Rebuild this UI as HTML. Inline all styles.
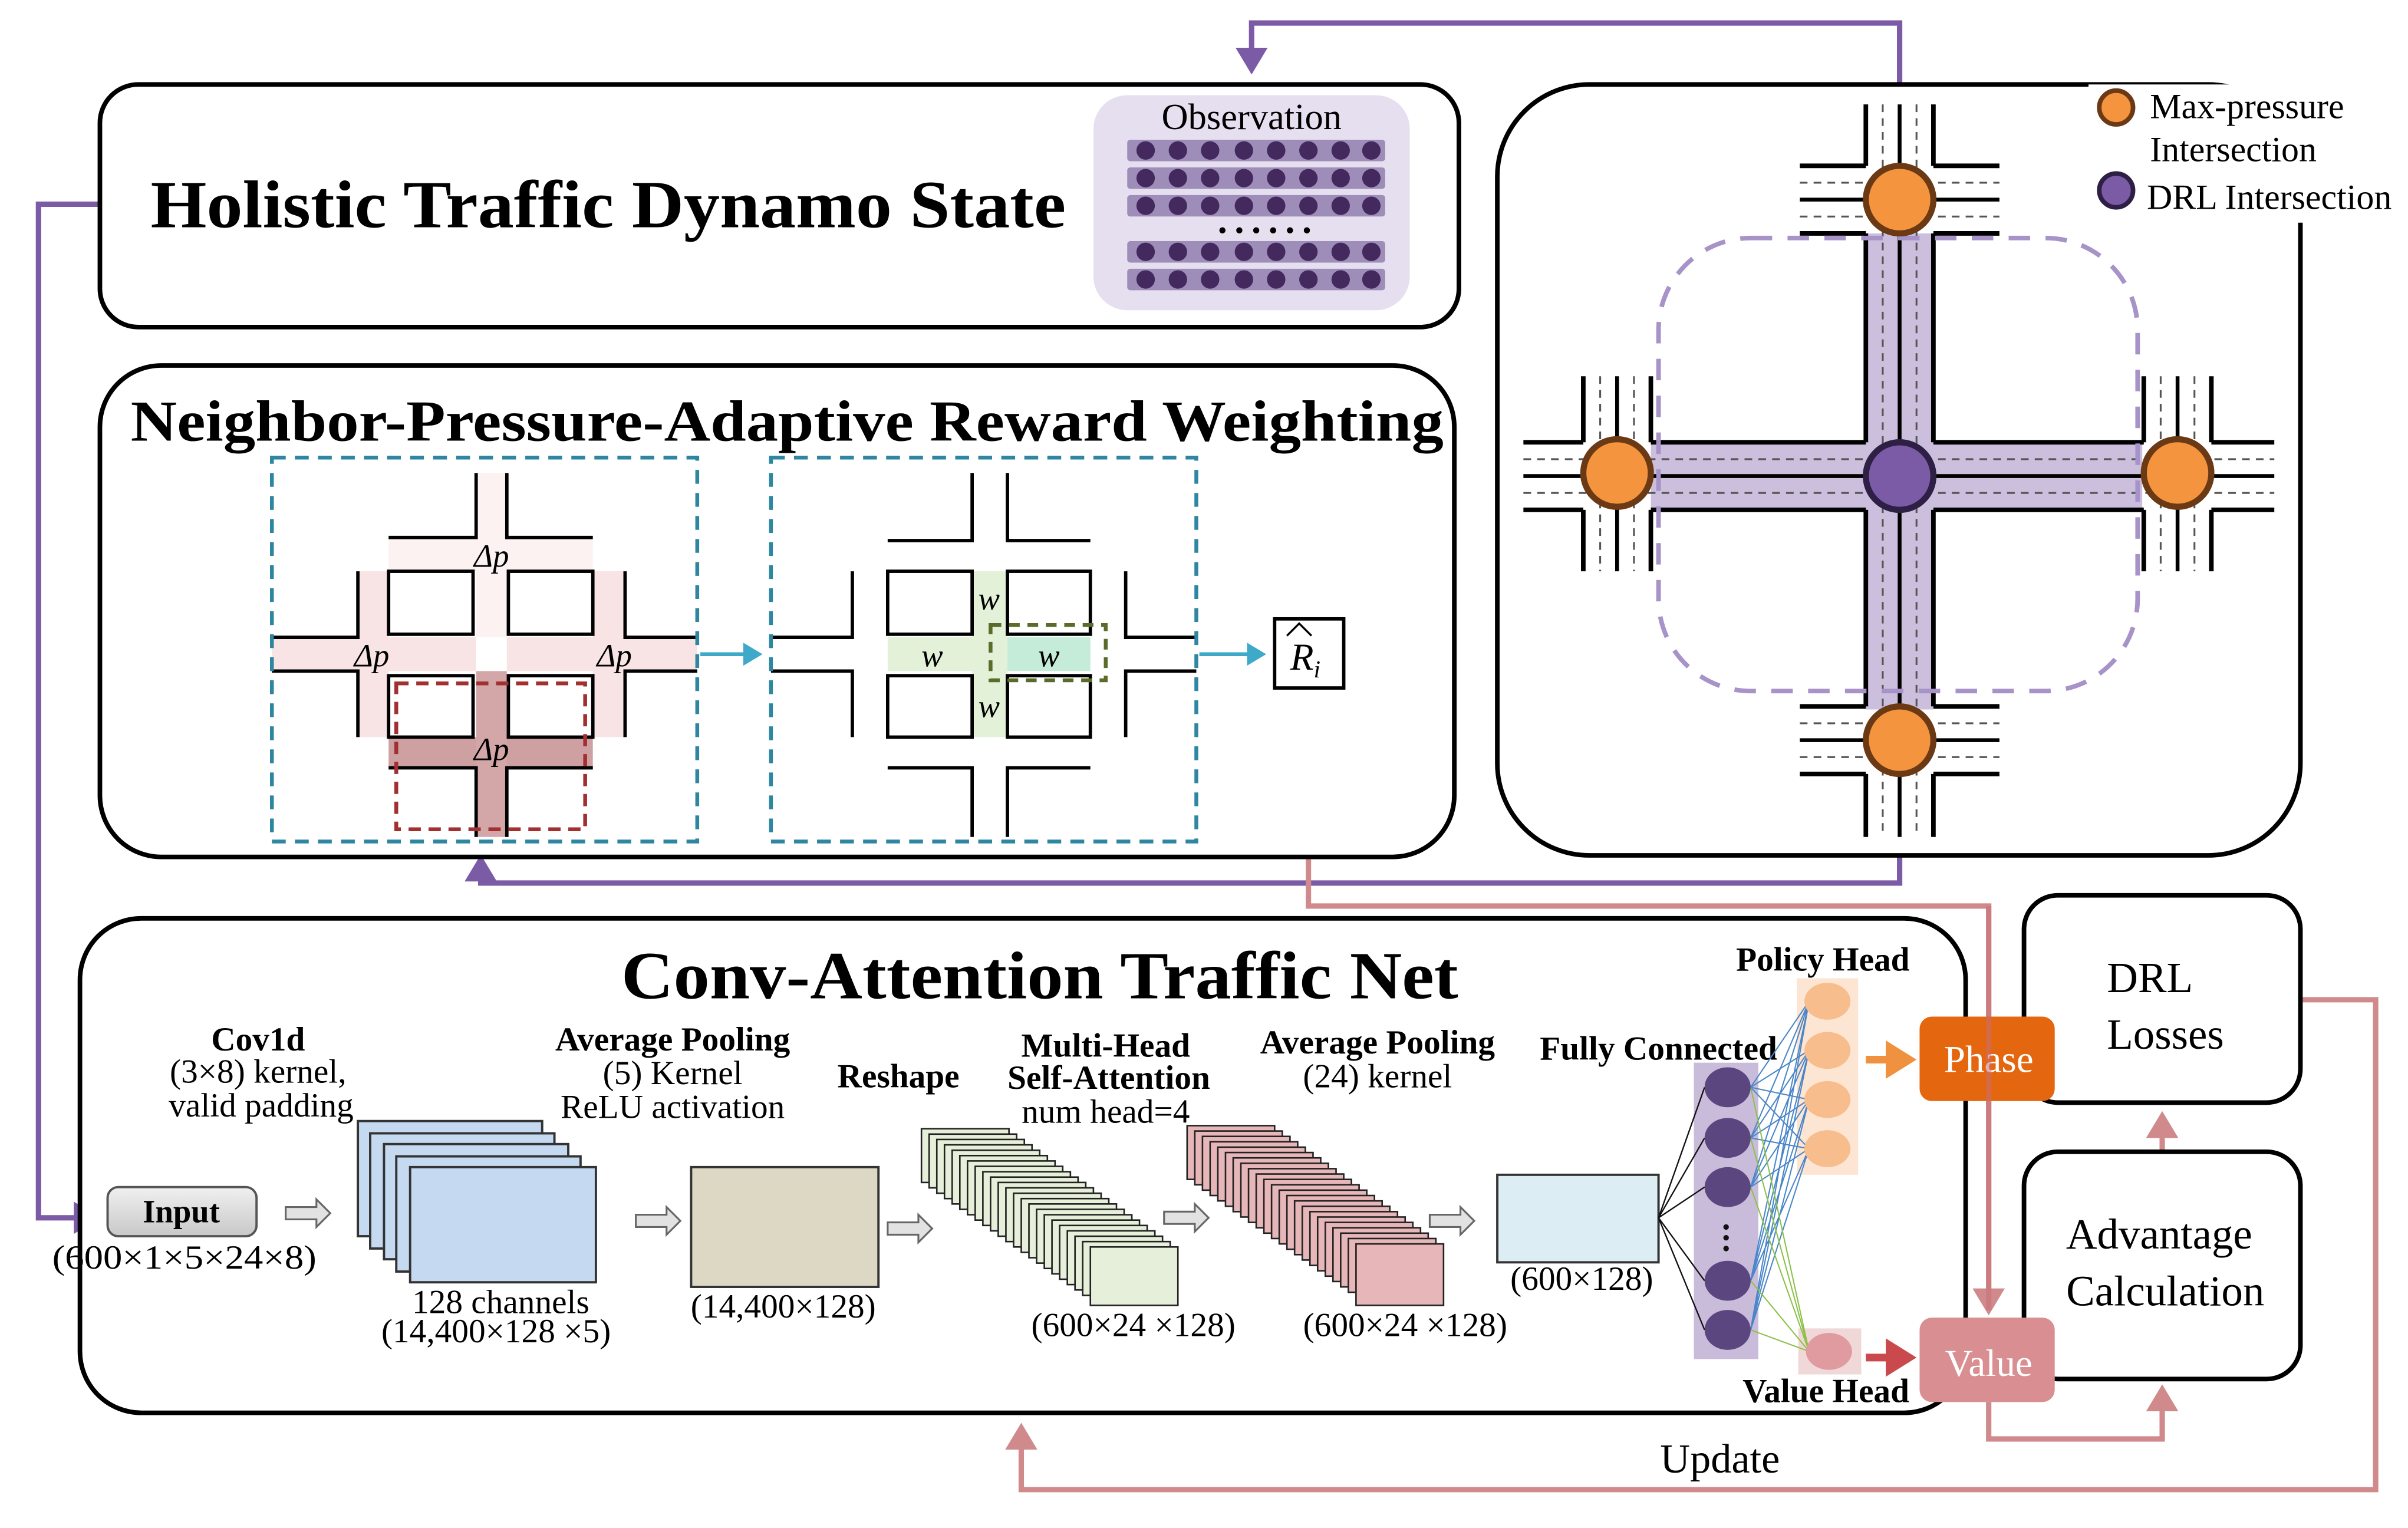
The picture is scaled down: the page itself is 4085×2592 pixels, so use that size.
<!DOCTYPE html>
<html><head><meta charset="utf-8"><style>
html,body{margin:0;padding:0;background:#fff;}
svg{display:block;}
text{font-family:"Liberation Serif",serif;}
</style></head><body>
<svg width="4085" height="2592" viewBox="0 0 1568 995" xmlns="http://www.w3.org/2000/svg">
<defs>
<marker id="ap" markerWidth="6" markerHeight="6" refX="4" refY="3" orient="auto" markerUnits="strokeWidth"><path d="M0,0 L5,3 L0,6 z" fill="#7b5aa6"/></marker>
<marker id="ar" markerWidth="6" markerHeight="6" refX="4" refY="3" orient="auto" markerUnits="strokeWidth"><path d="M0,0 L5,3 L0,6 z" fill="#d08a8c"/></marker>
<marker id="at" markerWidth="6" markerHeight="6" refX="4" refY="3" orient="auto" markerUnits="strokeWidth"><path d="M0,0 L5,3 L0,6 z" fill="#3fa9c9"/></marker>
<marker id="ao" markerWidth="5" markerHeight="5" refX="3" refY="2.5" orient="auto" markerUnits="strokeWidth"><path d="M0,0 L4,2.5 L0,5 z" fill="#f0913f"/></marker>
<marker id="ad" markerWidth="5" markerHeight="5" refX="3" refY="2.5" orient="auto" markerUnits="strokeWidth"><path d="M0,0 L4,2.5 L0,5 z" fill="#c9494c"/></marker>
<linearGradient id="gin" x1="0" y1="0" x2="0" y2="1"><stop offset="0" stop-color="#f0f0f0"/><stop offset="1" stop-color="#c8c8c8"/></linearGradient>
<g id="harr"><path d="M0,-4 L20,-4 L20,-9 L29,0 L20,9 L20,4 L0,4 z" fill="#e2e2e2" stroke="#666" stroke-width="1.2"/></g>
</defs>

<polyline points="1237,55 1237,15 815,15 815,45" fill="none" stroke="#7b5aa6" stroke-width="3.5" marker-end="url(#ap)"/>
<polyline points="65,133 25,133 25,793 62,793" fill="none" stroke="#7b5aa6" stroke-width="3.5" marker-end="url(#ap)"/>
<polyline points="1237,557 1237,575 313,575 313,560" fill="none" stroke="#7b5aa6" stroke-width="3.5" marker-end="url(#ap)"/>
<polyline points="852,450 852,590 1295,590 1295,853" fill="none" stroke="#d08a8c" stroke-width="3.5" marker-end="url(#ar)"/>
<polyline points="1498,651 1547,651 1547,970 665,970 665,930" fill="none" stroke="#d08a8c" stroke-width="3.5" marker-end="url(#ar)"/>
<polyline points="1295,913 1295,937 1408,937 1408,905" fill="none" stroke="#d08a8c" stroke-width="3.5" marker-end="url(#ar)"/>
<line x1="1408" y1="750" x2="1408" y2="727" stroke="#d08a8c" stroke-width="3.5" marker-end="url(#ar)"/>
<text x="1120" y="959" font-size="27" text-anchor="middle">Update</text>

<rect x="65" y="55" width="885" height="158" rx="25" fill="#fff" stroke="#000" stroke-width="3"/>
<text x="98" y="148" font-size="44" font-weight="bold" textLength="596" lengthAdjust="spacingAndGlyphs">Holistic Traffic Dynamo State</text>
<rect x="712" y="62" width="206" height="140" rx="22" fill="#e6dff0"/>
<text x="815" y="84" font-size="24" text-anchor="middle">Observation</text>
<g fill="#9d8db8">
<rect x="734" y="91" width="168" height="14" rx="2"/><rect x="734" y="109" width="168" height="14" rx="2"/><rect x="734" y="127" width="168" height="14" rx="2"/><rect x="734" y="157" width="168" height="14" rx="2"/><rect x="734" y="175" width="168" height="14" rx="2"/>
</g>
<g fill="#43295e">
<g id="dotrow"><circle cx="746" cy="98" r="6"/><circle cx="767" cy="98" r="6"/><circle cx="788" cy="98" r="6"/><circle cx="810" cy="98" r="6"/><circle cx="831" cy="98" r="6"/><circle cx="852" cy="98" r="6"/><circle cx="873" cy="98" r="6"/><circle cx="893" cy="98" r="6"/></g>
<use href="#dotrow" y="18"/><use href="#dotrow" y="36"/><use href="#dotrow" y="66"/><use href="#dotrow" y="84"/>
</g>
<g fill="#000"><circle cx="796" cy="150" r="2"/><circle cx="807" cy="150" r="2"/><circle cx="818" cy="150" r="2"/><circle cx="829" cy="150" r="2"/><circle cx="840" cy="150" r="2"/><circle cx="851" cy="150" r="2"/></g>

<rect x="65" y="238" width="882" height="320" rx="40" fill="#fff" stroke="#000" stroke-width="3"/>
<text x="85" y="287" font-size="38" font-weight="bold" textLength="855" lengthAdjust="spacingAndGlyphs">Neighbor-Pressure-Adaptive Reward Weighting</text>

<rect x="310" y="308" width="20" height="42" fill="#fcf2f2"/>
<rect x="253" y="350" width="133" height="22" fill="#fcf2f2"/>
<rect x="310" y="372" width="20" height="43" fill="#fcf2f2"/>
<rect x="233" y="372" width="20" height="108" fill="#f8e4e4"/>
<rect x="386" y="372" width="21" height="108" fill="#f8e4e4"/>
<rect x="177" y="415" width="277" height="22" fill="#f8e4e4"/>
<rect x="310" y="415" width="20" height="22" fill="#fff"/>
<rect x="253" y="480" width="133" height="20" fill="#cfa0a2"/>
<rect x="310" y="437" width="20" height="108" fill="#d3a6a7"/>
<g fill="none" stroke="#000" stroke-width="2.2">
<rect x="253" y="372" width="55" height="41"/><rect x="331" y="372" width="55" height="41"/>
<rect x="253" y="440" width="55" height="40"/><rect x="331" y="440" width="55" height="40"/>
<polyline points="310,308 310,350 253,350"/><polyline points="330,308 330,350 386,350"/>
<polyline points="233,372 233,415 177,415"/><polyline points="233,480 233,437 177,437"/>
<polyline points="407,372 407,415 454,415"/><polyline points="407,480 407,437 454,437"/>
<polyline points="253,500 310,500 310,545"/><polyline points="386,500 330,500 330,545"/>
</g>
<g font-size="21" font-style="italic" text-anchor="middle">
<text x="320" y="369">Δp</text><text x="242" y="434">Δp</text><text x="400" y="434">Δp</text><text x="320" y="495">Δp</text>
</g>
<rect x="258" y="445" width="123" height="95" fill="none" stroke="#a33030" stroke-width="2.5" stroke-dasharray="8,5"/>
<rect x="177" y="298" width="277" height="250" fill="none" stroke="#2e86a0" stroke-width="2.5" stroke-dasharray="9,6"/>
<line x1="456" y1="426" x2="494" y2="426" stroke="#3fa9c9" stroke-width="2.5" marker-end="url(#at)"/>

<rect x="633" y="372" width="23" height="108" fill="#e3f1d8"/>
<rect x="578" y="415" width="55" height="22" fill="#e3f1d8"/>
<rect x="656" y="415" width="54" height="22" fill="#c5ecd9"/>
<g fill="none" stroke="#000" stroke-width="2.2">
<rect x="578" y="372" width="55" height="41"/><rect x="656" y="372" width="54" height="41"/>
<rect x="578" y="440" width="55" height="40"/><rect x="656" y="440" width="54" height="40"/>
<polyline points="633,308 633,352 578,352"/><polyline points="656,308 656,352 710,352"/>
<polyline points="555,372 555,415 502,415"/><polyline points="555,480 555,437 502,437"/>
<polyline points="733,372 733,415 779,415"/><polyline points="733,480 733,437 779,437"/>
<polyline points="578,500 633,500 633,545"/><polyline points="710,500 656,500 656,545"/>
</g>
<g font-size="21" font-style="italic" text-anchor="middle">
<text x="644" y="397">w</text><text x="607" y="434">w</text><text x="683" y="434">w</text><text x="644" y="467">w</text>
</g>
<rect x="645" y="407" width="75" height="36" fill="none" stroke="#5a6b2a" stroke-width="2.5" stroke-dasharray="7,5"/>
<rect x="502" y="298" width="277" height="250" fill="none" stroke="#2e86a0" stroke-width="2.5" stroke-dasharray="9,6"/>
<line x1="781" y1="426" x2="822" y2="426" stroke="#3fa9c9" stroke-width="2.5" marker-end="url(#at)"/>
<rect x="830" y="403" width="45" height="45" fill="#fff" stroke="#000" stroke-width="2.2"/>
<text x="850" y="436" font-size="25" font-style="italic" text-anchor="middle">R<tspan font-size="16" dy="5">i</tspan></text>
<path d="M838,414 L846,406 L854,414" fill="none" stroke="#000" stroke-width="1.3"/>

<rect x="975" y="55" width="523" height="502" rx="60" fill="none" stroke="#000" stroke-width="3"/>
<rect x="1215" y="152" width="44" height="310" fill="#cbbfdd"/>
<rect x="1075" y="288" width="320" height="44" fill="#cbbfdd"/>
<g stroke="#000" stroke-width="3" fill="none">
<line x1="1215" y1="68" x2="1215" y2="108"/><line x1="1259" y1="68" x2="1259" y2="108"/>
<line x1="1215" y1="152" x2="1215" y2="288"/><line x1="1259" y1="152" x2="1259" y2="288"/>
<line x1="1215" y1="332" x2="1215" y2="460"/><line x1="1259" y1="332" x2="1259" y2="460"/>
<line x1="1215" y1="504" x2="1215" y2="545"/><line x1="1259" y1="504" x2="1259" y2="545"/>
<line x1="1237" y1="68" x2="1237" y2="545" stroke-width="2.5"/>
<line x1="992" y1="288" x2="1031" y2="288"/><line x1="992" y1="332" x2="1031" y2="332"/>
<line x1="1075" y1="288" x2="1215" y2="288"/><line x1="1075" y1="332" x2="1215" y2="332"/>
<line x1="1259" y1="288" x2="1396" y2="288"/><line x1="1259" y1="332" x2="1396" y2="332"/>
<line x1="1440" y1="288" x2="1481" y2="288"/><line x1="1440" y1="332" x2="1481" y2="332"/>
<line x1="992" y1="310" x2="1481" y2="310" stroke-width="2.5"/>
<line x1="1172" y1="108" x2="1215" y2="108"/><line x1="1259" y1="108" x2="1302" y2="108"/>
<line x1="1172" y1="152" x2="1215" y2="152"/><line x1="1259" y1="152" x2="1302" y2="152"/>
<line x1="1172" y1="130" x2="1302" y2="130" stroke-width="2.5"/>
<line x1="1172" y1="460" x2="1215" y2="460"/><line x1="1259" y1="460" x2="1302" y2="460"/>
<line x1="1172" y1="504" x2="1215" y2="504"/><line x1="1259" y1="504" x2="1302" y2="504"/>
<line x1="1172" y1="482" x2="1302" y2="482" stroke-width="2.5"/>
<line x1="1031" y1="245" x2="1031" y2="288"/><line x1="1075" y1="245" x2="1075" y2="288"/>
<line x1="1031" y1="332" x2="1031" y2="372"/><line x1="1075" y1="332" x2="1075" y2="372"/>
<line x1="1053" y1="245" x2="1053" y2="372" stroke-width="2.5"/>
<line x1="1396" y1="245" x2="1396" y2="288"/><line x1="1440" y1="245" x2="1440" y2="288"/>
<line x1="1396" y1="332" x2="1396" y2="372"/><line x1="1440" y1="332" x2="1440" y2="372"/>
<line x1="1418" y1="245" x2="1418" y2="372" stroke-width="2.5"/>
</g>
<g stroke="#555" stroke-width="1.2" stroke-dasharray="5,4" fill="none">
<line x1="1226" y1="68" x2="1226" y2="545"/><line x1="1248" y1="68" x2="1248" y2="545"/>
<line x1="992" y1="299" x2="1481" y2="299"/><line x1="992" y1="321" x2="1481" y2="321"/>
<line x1="1172" y1="119" x2="1302" y2="119"/><line x1="1172" y1="141" x2="1302" y2="141"/>
<line x1="1172" y1="471" x2="1302" y2="471"/><line x1="1172" y1="493" x2="1302" y2="493"/>
<line x1="1042" y1="245" x2="1042" y2="372"/><line x1="1064" y1="245" x2="1064" y2="372"/>
<line x1="1407" y1="245" x2="1407" y2="372"/><line x1="1429" y1="245" x2="1429" y2="372"/>
</g>
<rect x="1080" y="155" width="312" height="295" rx="60" fill="none" stroke="#a793c8" stroke-width="3" stroke-dasharray="14,10"/>
<g stroke="#6b3a15" stroke-width="4" fill="#f4943f">
<circle cx="1237" cy="130" r="22"/><circle cx="1053" cy="308" r="22"/><circle cx="1418" cy="308" r="22"/><circle cx="1237" cy="482" r="22"/>
</g>
<circle cx="1237" cy="310" r="22" fill="#7b5aa6" stroke="#2e1f45" stroke-width="4"/>
<rect x="1360" y="55" width="205" height="90" fill="#fff"/>
<circle cx="1378" cy="70" r="11" fill="#f4943f" stroke="#6b3a15" stroke-width="3"/>
<circle cx="1378" cy="124" r="11" fill="#7b5aa6" stroke="#2e1f45" stroke-width="3"/>
<g font-size="23"><text x="1400" y="77">Max-pressure</text><text x="1400" y="105">Intersection</text><text x="1398" y="136">DRL Intersection</text></g>

<rect x="52" y="598" width="1228" height="322" rx="40" fill="#fff" stroke="#000" stroke-width="3"/>
<text x="677" y="650" font-size="44" font-weight="bold" text-anchor="middle" textLength="545" lengthAdjust="spacingAndGlyphs">Conv-Attention Traffic Net</text>

<rect x="70" y="773" width="97" height="32" rx="7" fill="url(#gin)" stroke="#555" stroke-width="1.5"/>
<text x="118" y="796" font-size="21" font-weight="bold" text-anchor="middle">Input</text>
<text x="120" y="826" font-size="22" text-anchor="middle" textLength="172" lengthAdjust="spacingAndGlyphs">(600×1×5×24×8)</text>
<g font-size="22" text-anchor="middle">
<text x="168" y="684" font-weight="bold">Cov1d</text><text x="168" y="705">(3×8) kernel,</text><text x="170" y="727">valid padding</text>
<text x="438" y="684" font-weight="bold">Average Pooling</text><text x="438" y="706">(5) Kernel</text><text x="438" y="728">ReLU activation</text>
<text x="585" y="708" font-weight="bold">Reshape</text>
<text x="720" y="688" font-weight="bold">Multi-Head</text><text x="722" y="709" font-weight="bold">Self-Attention</text><text x="720" y="731">num head=4</text>
<text x="897" y="686" font-weight="bold">Average Pooling</text><text x="897" y="708">(24) kernel</text>
<text x="1080" y="690" font-weight="bold">Fully Connected</text>
<text x="1187" y="632" font-weight="bold">Policy Head</text>
<text x="1189" y="913" font-weight="bold">Value Head</text>
<text x="326" y="855">128 channels</text><text x="323" y="874">(14,400×128 ×5)</text>
<text x="510" y="858">(14,400×128)</text>
<text x="738" y="870">(600×24 ×128)</text>
<text x="915" y="870">(600×24 ×128)</text>
<text x="1030" y="840">(600×128)</text>
</g>
<use href="#harr" x="186" y="790"/><use href="#harr" x="414" y="795"/><use href="#harr" x="578" y="800"/><use href="#harr" x="758" y="793"/><use href="#harr" x="931" y="795"/>
<g fill="#c5d9f1" stroke="#333" stroke-width="1.5">
<rect x="233" y="730" width="120" height="75"/><rect x="241" y="738" width="120" height="75"/><rect x="250" y="745" width="120" height="75"/><rect x="258" y="753" width="120" height="75"/><rect x="267" y="760" width="121" height="75"/>
</g>
<rect x="450" y="760" width="122" height="78" fill="#ddd8c4" stroke="#333" stroke-width="1.5"/>
<g fill="#e6efd9" stroke="#222" stroke-width="1">
<rect x="600" y="735" width="57" height="35"/><rect x="605" y="738.5" width="57" height="35"/><rect x="610" y="742" width="57" height="35"/><rect x="615" y="745.5" width="57" height="35"/><rect x="620" y="749" width="57" height="35"/><rect x="625" y="752.5" width="57" height="35"/><rect x="630" y="756" width="57" height="35"/><rect x="635" y="759.5" width="57" height="35"/><rect x="640" y="763" width="57" height="35"/><rect x="645" y="766.5" width="57" height="35"/><rect x="650" y="770" width="57" height="35"/><rect x="655" y="773.5" width="57" height="35"/><rect x="660" y="777" width="57" height="35"/><rect x="665" y="780.5" width="57" height="35"/><rect x="670" y="784" width="57" height="35"/><rect x="675" y="787.5" width="57" height="35"/><rect x="680" y="791" width="57" height="35"/><rect x="685" y="794.5" width="57" height="35"/><rect x="690" y="798" width="57" height="35"/><rect x="695" y="801.5" width="57" height="35"/><rect x="700" y="805" width="57" height="35"/><rect x="705" y="808.5" width="57" height="35"/><rect x="710" y="812" width="57" height="38"/>
</g>
<g fill="#e6b6b8" stroke="#222" stroke-width="1">
<rect x="773" y="733" width="57" height="35"/><rect x="778" y="736.5" width="57" height="35"/><rect x="783" y="740" width="57" height="35"/><rect x="788" y="743.5" width="57" height="35"/><rect x="793" y="747" width="57" height="35"/><rect x="798" y="750.5" width="57" height="35"/><rect x="803" y="754" width="57" height="35"/><rect x="808" y="757.5" width="57" height="35"/><rect x="813" y="761" width="57" height="35"/><rect x="818" y="764.5" width="57" height="35"/><rect x="823" y="768" width="57" height="35"/><rect x="828" y="771.5" width="57" height="35"/><rect x="833" y="775" width="57" height="35"/><rect x="838" y="778.5" width="57" height="35"/><rect x="843" y="782" width="57" height="35"/><rect x="848" y="785.5" width="57" height="35"/><rect x="853" y="789" width="57" height="35"/><rect x="858" y="792.5" width="57" height="35"/><rect x="863" y="796" width="57" height="35"/><rect x="868" y="799.5" width="57" height="35"/><rect x="873" y="803" width="57" height="35"/><rect x="878" y="806.5" width="57" height="35"/><rect x="883" y="810" width="57" height="40"/>
</g>
<rect x="975" y="765" width="105" height="57" fill="#dcedf3" stroke="#333" stroke-width="1.5"/>
<rect x="1103" y="692" width="42" height="193" fill="#c9bcdb"/>
<rect x="1170" y="637" width="40" height="128" fill="#fde5d3"/>
<rect x="1171" y="865" width="41" height="30" fill="#f1d8d8"/>
<g stroke="#111" stroke-width="0.9">
<line x1="1080" y1="793" x2="1110" y2="708"/><line x1="1080" y1="793" x2="1110" y2="741"/><line x1="1080" y1="793" x2="1110" y2="773"/><line x1="1080" y1="793" x2="1110" y2="834"/><line x1="1080" y1="793" x2="1110" y2="866"/>
</g>
<g stroke="#4a86c8" stroke-width="0.8">
<path d="M1140,708 L1178,652 M1140,708 L1178,684 M1140,708 L1178,716 M1140,708 L1178,748 M1140,741 L1178,652 M1140,741 L1178,684 M1140,741 L1178,716 M1140,741 L1178,748 M1140,773 L1178,652 M1140,773 L1178,684 M1140,773 L1178,716 M1140,773 L1178,748 M1140,834 L1178,652 M1140,834 L1178,684 M1140,834 L1178,716 M1140,834 L1178,748 M1140,866 L1178,652 M1140,866 L1178,684 M1140,866 L1178,716 M1140,866 L1178,748"/>
</g>
<g stroke="#8cc04a" stroke-width="0.8">
<path d="M1140,708 L1178,880 M1140,741 L1178,880 M1140,773 L1178,880 M1140,834 L1178,880 M1140,866 L1178,880"/>
</g>
<g fill="#5c4680">
<ellipse cx="1125" cy="708" rx="15" ry="13"/><ellipse cx="1125" cy="741" rx="15" ry="13"/><ellipse cx="1125" cy="773" rx="15" ry="13"/><ellipse cx="1125" cy="834" rx="15" ry="13"/><ellipse cx="1125" cy="866" rx="15" ry="13"/>
</g>
<g fill="#111"><circle cx="1124" cy="799" r="1.8"/><circle cx="1124" cy="806" r="1.8"/><circle cx="1124" cy="813" r="1.8"/></g>
<g fill="#f8bd8c">
<ellipse cx="1190" cy="652" rx="15" ry="12"/><ellipse cx="1190" cy="684" rx="15" ry="12"/><ellipse cx="1190" cy="716" rx="15" ry="12"/><ellipse cx="1190" cy="748" rx="15" ry="12"/>
</g>
<ellipse cx="1191" cy="880" rx="15" ry="12" fill="#e09ba0"/>
<line x1="1215" y1="690" x2="1243" y2="690" stroke="#f0913f" stroke-width="5" marker-end="url(#ao)"/>
<line x1="1215" y1="884" x2="1243" y2="884" stroke="#c9494c" stroke-width="5" marker-end="url(#ad)"/>

<rect x="1318" y="583" width="180" height="135" rx="22" fill="#fff" stroke="#000" stroke-width="3"/>
<text x="1372" y="646" font-size="28">DRL</text><text x="1372" y="683" font-size="28">Losses</text>
<rect x="1318" y="750" width="180" height="148" rx="22" fill="#fff" stroke="#000" stroke-width="3"/>
<text x="1406" y="813" font-size="28" text-anchor="middle">Advantage</text><text x="1410" y="850" font-size="28" text-anchor="middle">Calculation</text>
<rect x="1250" y="662" width="88" height="55" rx="8" fill="#e4660f"/>
<text x="1295" y="698" font-size="25" fill="#fff" text-anchor="middle">Phase</text>
<rect x="1250" y="858" width="88" height="55" rx="8" fill="#d98e91"/>
<text x="1295" y="896" font-size="25" fill="#fff" text-anchor="middle">Value</text>
<line x1="1295" y1="590" x2="1295" y2="853" stroke="#c96f73" stroke-width="3.5" opacity="0.55"/>
</svg>
</body></html>
